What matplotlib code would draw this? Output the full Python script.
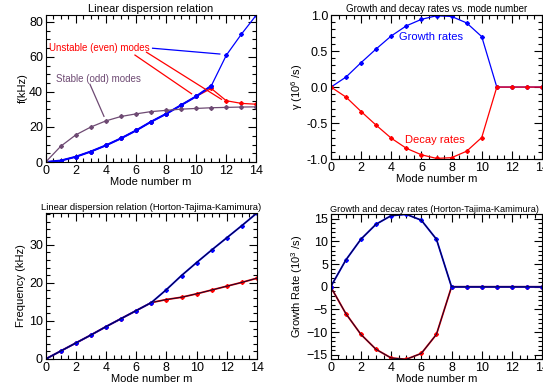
import numpy as np
import matplotlib
matplotlib.use("Agg")
import matplotlib.pyplot as plt
from matplotlib.ticker import MultipleLocator

plt.rcParams['font.family'] = ['Liberation Sans', 'DejaVu Sans']
plt.rcParams['mathtext.fontset'] = 'custom'
plt.rcParams['mathtext.rm'] = 'Liberation Sans'

# mode numbers
m = np.arange(15)

# top-left: linear dispersion relation (kHz)
f_blue = [0, 0.8, 3, 6, 9.5, 13.5, 18, 23, 27.5, 32.5, 37.5, 43.5, 61, 73, 84]
f_red = [0, 0.8, 3, 6, 9.5, 13.5, 18, 23, 27.5, 32.5, 37.5, 42, 35, 33.5, 33]
f_odd = [0, 9, 15.5, 20, 23.5, 26, 27.5, 28.8, 29.5, 30.2, 30.6, 31, 31.2, 31.4, 31.5]

# top-right: growth/decay rates (1e6 /s)
gamma_grow = [0, 0.14, 0.34, 0.53, 0.71, 0.85, 0.94, 0.99, 0.98, 0.89, 0.70, 0, 0, 0, 0]
gamma_decay = [-g for g in gamma_grow]

# bottom-left: HTK dispersion (kHz)
htk_f_blue = [0, 2.1, 4.2, 6.3, 8.5, 10.6, 12.7, 14.8, 18.2, 21.9, 25.3, 28.6, 31.8, 35.0, 38.3]
htk_f_red = [0, 2.1, 4.2, 6.3, 8.5, 10.6, 12.7, 14.8, 15.6, 16.2, 17.1, 18.1, 19.1, 20.1, 21.2]

# bottom-right: HTK growth rates
htk_grow = [0, 5.9, 10.5, 13.8, 15.7, 16.0, 14.7, 10.5, 0, 0, 0, 0, 0, 0, 0]
htk_decay = [-g for g in htk_grow]

fig = plt.figure(figsize=(5.43, 3.9), dpi=100)

ax1 = fig.add_axes([0.0842, 0.5846, 0.388, 0.377])
ax2 = fig.add_axes([0.6096, 0.592, 0.3886, 0.3695])
ax3 = fig.add_axes([0.0842, 0.0795, 0.389, 0.3743])
ax4 = fig.add_axes([0.609, 0.0787, 0.3895, 0.3718])


def idl_style(ax, ymajor, yminor):
    ax.set_xlim(0, 14)
    ax.xaxis.set_major_locator(MultipleLocator(2))
    ax.xaxis.set_minor_locator(MultipleLocator(0.5))
    ax.yaxis.set_major_locator(MultipleLocator(ymajor))
    ax.yaxis.set_minor_locator(MultipleLocator(yminor))
    ax.tick_params(which='both', direction='in', top=True, right=True,
                   labelsize=9, pad=2, width=0.8)
    ax.tick_params(which='major', length=6)
    ax.tick_params(which='minor', length=3)
    for s in ax.spines.values():
        s.set_linewidth(0.8)
    ax.set_xlabel('Mode number m', fontsize=8, labelpad=0)


mk = dict(marker='D', markersize=2)

# panel 1
ax1.plot(m, f_red, color='red', lw=0.9, **mk)
ax1.plot(m[:12], f_blue[:12], color='blue', lw=1.5, **mk)
ax1.plot(m, f_blue, color='blue', lw=0.9, **mk)
ax1.plot(m, f_odd, color='#6e4a73', lw=0.9, **mk)
idl_style(ax1, 20, 5)
ax1.set_ylim(0, 84)
ax1.set_title('Linear dispersion relation', fontsize=8, pad=2)
ax1.set_ylabel('f(kHz)', fontsize=8, labelpad=1)
ax1.text(0.2, 65, 'Unstable (even) modes', color='red', fontsize=7, va='center')
ax1.plot([7.1, 11.57], [65, 61.7], color='blue', lw=0.9)
ax1.plot([5.93, 9.69], [61.1, 39], color='red', lw=0.9)
ax1.plot([6.7, 11.68], [62.7, 35.8], color='red', lw=0.9)
ax1.text(0.68, 47.7, 'Stable (odd) modes', color='#6e4a73', fontsize=7, va='center')
ax1.plot([2.94, 3.87], [44.4, 26.1], color='#6e4a73', lw=0.9)

# panel 2
ax2.plot(m, gamma_grow, color='blue', lw=0.9, **mk)
ax2.plot(m, gamma_decay, color='red', lw=0.9, **mk)
idl_style(ax2, 0.5, 0.1)
ax2.set_ylim(-1, 1)
ax2.set_yticks([-1, -0.5, 0, 0.5, 1])
ax2.set_yticklabels(['-1.0', '-0.5', '0.0', '0.5', '1.0'])
ax2.set_title('Growth and decay rates vs. mode number', fontsize=7, pad=2)
ax2.set_ylabel(r'γ (10$^6$ /s)', fontsize=8, labelpad=1)
ax2.text(4.5, 0.7, 'Growth rates', color='blue', fontsize=8, va='center')
ax2.text(4.9, -0.73, 'Decay rates', color='red', fontsize=8, va='center')

# panel 3
for ys, c in [(htk_f_red, 'red'), (htk_f_blue, 'blue')]:
    ax3.plot(m, ys, color=c, lw=1.3, **mk)
    ax3.plot(m, ys, color='#0a0a30', lw=0.7)
idl_style(ax3, 10, 2)
ax3.set_ylim(0, 38.3)
ax3.set_title('Linear dispersion relation (Horton-Tajima-Kamimura)', fontsize=6.8, pad=2)
ax3.set_ylabel('Frequency (kHz)', fontsize=8, labelpad=2)

# panel 4
for ys, c in [(htk_decay, 'red'), (htk_grow, 'blue')]:
    ax4.plot(m, ys, color=c, lw=1.3, **mk)
    ax4.plot(m, ys, color='#0a0a30', lw=0.7)
idl_style(ax4, 5, 1)
ax4.set_ylim(-16, 16)
ax4.set_title('Growth and decay rates (Horton-Tajima-Kamimura)', fontsize=6.6, pad=2, x=0.49)
ax4.set_ylabel(r'Growth Rate (10$^3$ /s)', fontsize=8, labelpad=1)

fig.savefig('out.png', dpi=100)
